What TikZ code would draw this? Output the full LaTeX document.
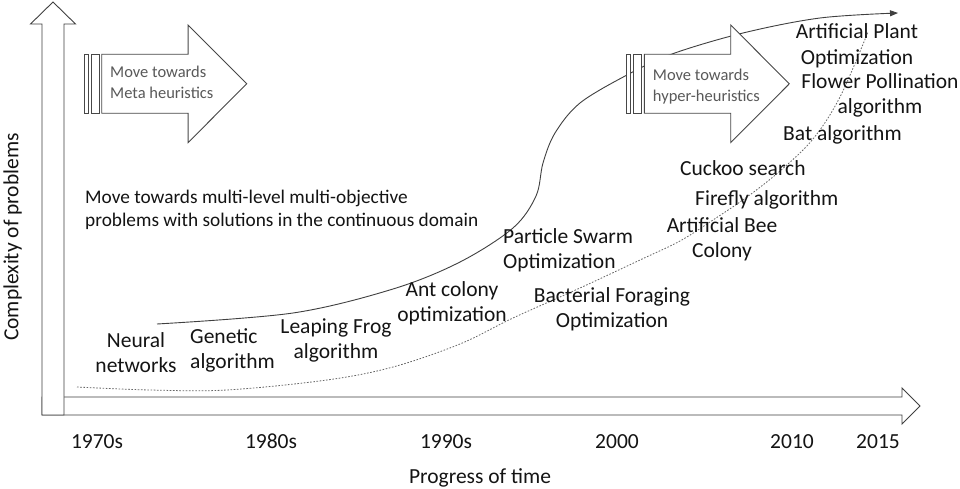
\documentclass[tikz,border=0pt]{standalone}
\usepackage{fontspec}
\setmainfont{Carlito}
\usetikzlibrary{arrows.meta}
\tikzset{
  axisarrow/.style={draw=black!75, fill=white, line width=0.9pt, line join=miter},
  sbox/.style={draw=black!72, fill=white, line width=0.9pt, line join=miter},
  lab/.style={font=\fontsize{21.5}{25}\selectfont, inner sep=0pt, text=black!92},
  labc/.style={lab, align=center, anchor=north},
  labl/.style={lab, align=left, anchor=north west},
  smalltxt/.style={font=\fontsize{16.5}{21}\selectfont, inner sep=0pt, text=black!65, align=left, anchor=north west},
  midtxt/.style={font=\fontsize{19.3}{23.4}\selectfont, inner sep=0pt, text=black!92, align=left, anchor=north west},
  trend/.style={draw=black!75, line width=0.9pt, -{Triangle[length=8pt,width=6pt]}},
  dotline/.style={draw=black!60, line width=0.8pt, dash pattern=on 1.6pt off 1.6pt},
  stripearrow/.pic={
    \draw[sbox] (-17.6,-29.5) rectangle (-13.4,29.5);
    \draw[sbox] (-10.6,-29.5) rectangle (-2.6,29.5);
    \draw[sbox] (0,-29.5) -- (86.4,-29.5) -- (86.4,-58.8) -- (145,0) -- (86.4,58.8) -- (86.4,29.5) -- (0,29.5) -- cycle;
  }
}
\begin{document}
\begin{tikzpicture}[x=1pt,y=-1pt]
\useasboundingbox[fill=white] (0,0) rectangle (960,489);

% axes (block arrows)
\draw[axisarrow] (42,397) -- (902,397) -- (902,388) -- (920,406) -- (902,424) -- (902,415) -- (42,415) -- cycle;
\draw[axisarrow] (42,415) -- (42,24) -- (30.5,24) -- (53,2) -- (75.5,24) -- (64,24) -- (64,415) -- cycle;

% trend curves
\coordinate (d0) at (77,387);
\coordinate (d1) at (868,32);
\draw[dotline] plot[smooth, tension=0.55] coordinates {(d0) (150,390) (227,390) (327,380) (393,367) (460,344) (513,318) (580,288) (640,260) (680,241) (713,220) (747,197) (780,171) (813,139) (840,97) (d1)};

\coordinate (s0) at (157,324);
\coordinate (s1) at (898,13);
\draw[trend] plot[smooth, tension=0.55] coordinates {(s0) (293,313) (393,289) (460,262) (513,228) (536,196) (543,163) (555,133) (580,103) (627,75) (672,54) (743,33) (820,18) (s1)};

% striped arrows
\pic (meta) at (101.7,83.8) {stripearrow};
\pic (hyper) at (644.3,83.8) {stripearrow};
\node[smalltxt] (metatxt) at (110,62.3) {\strut Move towards\\\strut Meta heuristics};
\node[smalltxt] (hypertxt) at (652.7,65.3) {\strut Move towards\\\strut hyper-heuristics};

% description
\node[midtxt] (desc) at (85,186.6) {\strut Move towards multi-level multi-objective\\\strut problems with solutions in the continuous domain};

% algorithms
\node[labc] (nn) at (136,329.5) {\strut Neural\\\strut networks};
\node[labl] (ga) at (190,325.5) {\strut Genetic\\\strut algorithm};
\node[labc] (lf) at (336,315.5) {\strut Leaping Frog\\\strut algorithm};
\node[labc] (aco) at (452,278.5) {\strut Ant colony\\\strut optimization};
\node[labl] (pso) at (503,225.5) {\strut Particle Swarm\\\strut Optimization};
\node[labc] (bfo) at (612,284.5) {\strut Bacterial Foraging\\\strut Optimization};
\node[labc] (abc) at (722,214.5) {\strut Artificial Bee\\\strut Colony};
\node[labl] (ff) at (695,187.5) {\strut Firefly algorithm};
\node[labl] (cs) at (680,157.5) {\strut Cuckoo search};
\node[labl] (bat) at (783,122.5) {\strut Bat algorithm};
\node[labc] (fpa) at (880,70.5) {\strut Flower Pollination\\\strut algorithm};
\node[labc, font=\fontsize{21.5}{26}\selectfont] (apo) at (857,19.8) {\strut Artificial Plant\\\strut Optimization};

% time ticks
\node[lab, anchor=base] (t1970) at (97,448) {1970s};
\node[lab, anchor=base] (t1980) at (271,448) {1980s};
\node[lab, anchor=base] (t1990) at (446,448) {1990s};
\node[lab, anchor=base] (t2000) at (617,448) {2000};
\node[lab, anchor=base] (t2010) at (792,448) {2010};
\node[lab, anchor=base] (t2015) at (878,448) {2015};

% axis titles
\node[lab, anchor=base] (xlab) at (480,483) {Progress of time};
\node[lab, anchor=base, rotate=90] (ylab) at (18.3,237) {Complexity of problems};
\end{tikzpicture}
\end{document}
